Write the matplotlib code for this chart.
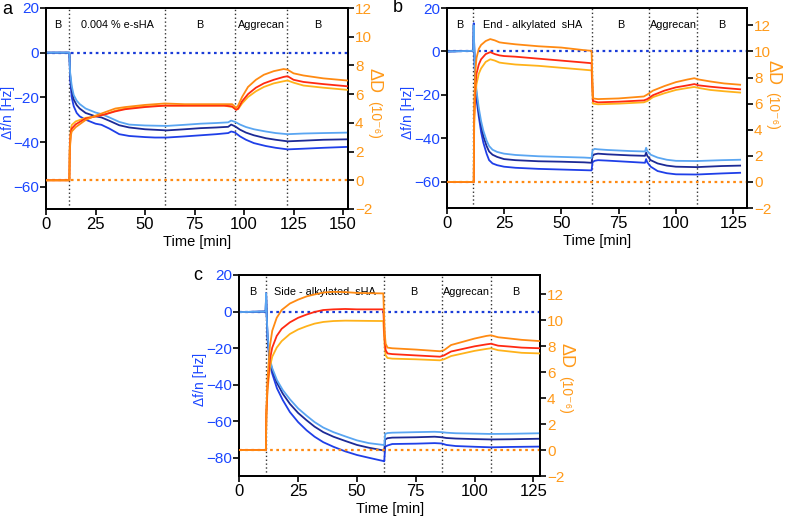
import matplotlib
matplotlib.use("Agg")
import matplotlib.pyplot as plt

plt.rcParams['font.family'] = ['Liberation Sans', 'DejaVu Sans']

# ---------------- Panel a ----------------
a_phase_times = [11.8, 60.0, 95.5, 121.7]
a_phase_labels = ["B", "0.004 % e-sHA", "B", "Aggrecan", "B"]

a_f1_t = [0, 11.8, 12.2, 13, 14, 15.5, 17, 20, 25, 28, 32, 37, 42, 50, 55, 61, 70, 78, 86, 92, 93.5, 94.5, 95.5, 98, 101, 105, 111, 116, 122, 130, 140, 152]
a_f1_v = [0, 0, -12, -20, -24, -27, -28.5, -30, -31.8, -32.3, -34, -36.5, -37.3, -37.8, -38, -38, -37.5, -37, -36.5, -36, -35.3, -35.5, -35.8, -37.5, -39, -40.5, -41.8, -42.6, -43.3, -43, -42.6, -42.2]
a_f2_t = [0, 11.8, 12.2, 13, 14, 15.5, 17, 20, 25, 28, 32, 37, 42, 50, 61, 70, 78, 86, 92, 93.5, 94.5, 95.5, 98, 101, 105, 111, 116, 122, 130, 140, 152]
a_f2_v = [0, 0, -10, -17, -21, -23.5, -25, -27, -28.5, -29, -30.5, -32.5, -33.5, -34.3, -34.8, -34.3, -33.8, -33.5, -33.2, -32.2, -32.6, -33, -34.5, -35.8, -37, -38.3, -39, -39.7, -39.4, -39, -38.8]
a_f3_t = [0, 11.8, 12.2, 13, 14, 15.5, 17, 20, 25, 28, 32, 37, 42, 50, 61, 70, 78, 86, 92, 93.5, 94.5, 95.5, 98, 101, 105, 111, 116, 122, 130, 140, 152]
a_f3_v = [0, 0, -9, -15, -19, -21.5, -23, -25, -26.8, -27.5, -29, -31, -32.2, -32.6, -32.8, -32.3, -31.8, -31.5, -31.2, -30.4, -30.7, -31, -32.2, -33.3, -34.3, -35.3, -36, -36.5, -36.2, -36, -35.8]

a_d_t = [0, 11.8, 12.0, 12.5, 13, 15, 20, 25, 30, 35, 40, 50, 60, 70, 80, 90, 94, 96, 97, 99, 102, 106, 110, 115, 120, 122, 125, 130, 140, 152]
a_d1_v = [0, 0, 2.0, 3.1, 3.4, 3.7, 4.2, 4.5, 4.75, 5.0, 5.1, 5.25, 5.35, 5.3, 5.3, 5.3, 5.3, 5.05, 5.2, 5.8, 6.5, 7.0, 7.35, 7.6, 7.75, 7.7, 7.45, 7.3, 7.1, 6.95]
a_d2_v = [0, 0, 2.2, 3.3, 3.6, 3.9, 4.3, 4.45, 4.6, 4.8, 4.95, 5.1, 5.2, 5.2, 5.2, 5.2, 5.15, 4.9, 5.0, 5.5, 6.0, 6.45, 6.75, 7.0, 7.2, 7.25, 7.0, 6.85, 6.7, 6.55]
a_d3_v = [0, 0, 2.4, 3.5, 3.85, 4.1, 4.35, 4.45, 4.6, 4.85, 5.0, 5.15, 5.2, 5.2, 5.2, 5.2, 5.1, 4.95, 4.95, 5.35, 5.8, 6.2, 6.5, 6.75, 6.9, 6.95, 6.8, 6.6, 6.45, 6.3]

# ---------------- Panel b ----------------
b_phase_times = [11.6, 63.4, 88.4, 109.3]
b_phase_labels = ["B", "End - alkylated  sHA", "B", "Aggrecan", "B"]

b_f_t = [0, 11.6, 11.8, 12.0, 12.3, 13, 14, 15, 16, 17.4, 18.5, 20, 22, 25, 30, 40, 50, 60, 63.2, 63.6, 64.5, 66, 70, 80, 86.5, 87, 87.5, 89, 92, 96, 100, 109, 120, 128]
b_f1_v = [0, 0.3, 13, 2, -10, -22, -30, -37, -42, -47, -50, -51.5, -52.3, -53, -53.5, -54, -54.3, -54.6, -54.7, -51, -50.3, -50, -50.2, -50.8, -51.2, -49.5, -51, -53, -55, -56, -56.5, -56.6, -56.1, -55.8]
b_f2_v = [0, 0.3, 12, 2, -9, -20, -28, -34, -39, -43.5, -46, -47.5, -48.5, -49.5, -50, -50.5, -50.7, -51, -51.2, -48, -47.3, -47, -47.3, -47.8, -48, -46.5, -48, -50, -51.5, -52.5, -53, -53.2, -52.7, -52.5]
b_f3_v = [0, 0.3, 12, 2, -8, -18, -26, -32, -36.5, -41, -43.5, -45.2, -46.2, -47, -47.6, -48.2, -48.5, -48.8, -49, -45.5, -44.8, -45, -45.3, -45.8, -46, -44.3, -45.8, -47.5, -48.8, -49.8, -50.3, -50.4, -50, -49.8]

b_d_t = [0, 11.8, 12.0, 12.5, 13, 14, 15, 17, 19, 21, 23, 25, 30, 40, 50, 60, 63.2, 63.8, 66, 75, 86, 87.5, 90, 95, 100, 105, 108, 110, 115, 121, 128]
b_d1_v = [0, 0, 6, 8.5, 9.5, 10.2, 10.5, 10.8, 10.95, 10.85, 10.7, 10.65, 10.55, 10.4, 10.3, 10.1, 10.05, 6.4, 6.35, 6.4, 6.55, 6.7, 7.0, 7.35, 7.65, 7.85, 7.95, 7.85, 7.7, 7.55, 7.45]
b_d2_v = [0, 0, 5, 7.5, 8.3, 9.0, 9.4, 9.8, 9.95, 9.8, 9.7, 9.65, 9.6, 9.45, 9.3, 9.15, 9.1, 6.2, 6.1, 6.15, 6.25, 6.35, 6.65, 7.0, 7.25, 7.4, 7.5, 7.4, 7.3, 7.2, 7.1]
b_d3_v = [0, 0, 4.5, 6.8, 7.5, 8.3, 8.7, 9.2, 9.4, 9.3, 9.15, 9.1, 9.0, 8.9, 8.75, 8.6, 8.55, 6.0, 5.95, 6.0, 6.1, 6.2, 6.5, 6.8, 7.05, 7.2, 7.28, 7.2, 7.05, 6.95, 6.85]

# ---------------- Panel c ----------------
c_phase_times = [11.3, 61.6, 86.3, 106.9]
c_phase_labels = ["B", "Side - alkylated  sHA", "B", "Aggrecan", "B"]

c_f_t = [0, 11.2, 11.4, 11.6, 12, 13, 14, 16, 18.5, 21.5, 25, 28.6, 32, 35.7, 40, 45, 50, 55, 61.2, 61.6, 62.0, 63, 65, 75, 83, 86, 88, 92, 100, 107, 115, 128]
c_f1_v = [-0.3, 0, 10, 0, -15, -29, -34, -42, -48.5, -55, -60.5, -65, -68.5, -71.5, -74, -76.5, -78.5, -80, -81.8, -82, -74, -73.3, -72.5, -72.3, -72, -72.2, -73, -73.6, -74, -74.3, -74.1, -73.9]
c_f2_v = [-0.3, 0, 10, 0, -14, -27, -32, -39, -45, -50.5, -55.5, -59.5, -63, -66, -68.5, -70.8, -73, -74.5, -76, -76.2, -70, -69.3, -69, -68.8, -68.5, -68.8, -69.2, -69.5, -69.8, -70, -69.9, -69.6]
c_f3_v = [-0.3, 0, 10, 0, -13, -26, -31, -37.5, -43, -48, -53, -57, -60.5, -63.5, -66, -68.3, -70.5, -72, -73, -73.2, -67, -66.5, -66.3, -66, -65.8, -66, -66.3, -66.6, -66.8, -67, -66.9, -66.6]

c_d_t = [0, 11.3, 11.5, 12, 13, 14, 15.9, 18, 21.5, 25, 28.6, 32, 35.7, 40, 45, 50, 55, 61.2, 61.8, 62.2, 63, 65, 75, 85.3, 87, 90, 95, 100, 105, 107, 110, 115, 120, 128]
c_d1_v = [0, 0, 3, 5.5, 8.0, 9.2, 10.2, 10.8, 11.3, 11.6, 11.85, 12.0, 12.15, 12.2, 12.18, 12.12, 12.1, 12.08, 9, 8.2, 7.9, 7.85, 7.75, 7.62, 7.7, 8.1, 8.35, 8.6, 8.8, 8.85, 8.7, 8.6, 8.5, 8.4]
c_d2_v = [0, 0, 2.8, 5.0, 7.0, 7.9, 8.8, 9.35, 9.85, 10.2, 10.45, 10.65, 10.8, 10.85, 10.88, 10.85, 10.85, 10.85, 8.5, 7.7, 7.45, 7.4, 7.3, 7.2, 7.3, 7.6, 7.8, 8.0, 8.15, 8.2, 8.05, 7.98, 7.9, 7.85]
c_d3_v = [0, 0, 2.6, 4.6, 6.4, 7.2, 7.9, 8.4, 8.95, 9.3, 9.55, 9.75, 9.88, 9.95, 9.98, 9.97, 9.96, 9.95, 8.0, 7.3, 7.1, 7.05, 7.0, 6.92, 7.0, 7.25, 7.45, 7.65, 7.8, 7.85, 7.7, 7.6, 7.5, 7.45]

# ---------------- styling ----------------
BLUE1 = "#1f3fe8"
BLUE2 = "#1c2a96"
BLUE3 = "#5aa6f2"
ORANGE = "#ff8a12"
RED = "#ff2a12"
YELLOW = "#ffb21a"
TICKBLUE = "#1a46ff"
TICKORANGE = "#ff9a1a"

fig = plt.figure(figsize=(7.87, 5.17), dpi=100)

W, H = 787.0, 517.0


def make_axes(l, r, t, b):
    return fig.add_axes([l / W, 1 - b / H, (r - l) / W, (b - t) / H])


def draw_panel(ax, xlim, xticks, ylim_f, yticks_f, ylim_d, yticks_d,
               phase_times, phase_labels,
               f_series, d_series, ylab_x, dlab_y, dunit_y):
    ax2 = ax.twinx()
    ax.axhline(0, color="#1a3cd8", ls=(0, (1.2, 1.6)), lw=1.6, zorder=1)
    ax2.axhline(0, color=ORANGE, ls=(0, (1.2, 1.6)), lw=1.6, zorder=1)
    for t in phase_times:
        ax.axvline(t, color="#333333", ls=(0, (1, 1.8)), lw=1.0, zorder=0)
    for (tt, vv, col) in f_series:
        ax.plot(tt, vv, color=col, lw=1.3, zorder=3)
    for (tt, vv, col) in d_series:
        ax2.plot(tt, vv, color=col, lw=1.3, zorder=3)

    ax.set_xlim(*xlim)
    ax.set_ylim(*ylim_f)
    ax2.set_ylim(*ylim_d)
    ax.set_xticks(xticks)
    ax.set_yticks(yticks_f)
    ax2.set_yticks(yticks_d)
    ax.tick_params(axis="x", direction="out", length=4, width=1.2, labelsize=12, pad=2)
    ax.tick_params(axis="y", direction="out", length=4, width=1.2, labelsize=11,
                   labelcolor=TICKBLUE, pad=1)
    ax2.tick_params(axis="y", direction="out", length=4, width=1.2, labelsize=11,
                    labelcolor=TICKORANGE, pad=1)
    for a_ in (ax, ax2):
        for s in a_.spines.values():
            s.set_linewidth(1.3)
            s.set_color("black")

    edges = [xlim[0]] + list(phase_times) + [xlim[1]]
    for i, lab in enumerate(phase_labels):
        xc = 0.5 * (edges[i] + edges[i + 1])
        ax.text(xc, 0.915, lab, transform=ax.get_xaxis_transform(),
                ha="center", va="center", fontsize=7.8, color="black")

    ax.text(0.5, -0.165, "Time [min]", transform=ax.transAxes,
            ha="center", va="center", fontsize=10.5)
    ax.text(ylab_x, 0.48, "Δf/n [Hz]", transform=ax.transAxes, rotation=90,
            ha="center", va="center", fontsize=10, color=TICKBLUE)
    ax.text(1.085, dlab_y, "ΔD", transform=ax.transAxes, rotation=-90,
            ha="center", va="center", fontsize=13, color=TICKORANGE)
    ax.text(1.085, dunit_y, "(10⁻⁶)", transform=ax.transAxes, rotation=-90,
            ha="center", va="center", fontsize=10, color=TICKORANGE)
    return ax2


axa = make_axes(46, 348, 8, 209)
draw_panel(axa, (0, 152.5), [0, 25, 50, 75, 100, 125, 150], (-70, 20), [-60, -40, -20, 0, 20],
           (-2, 12), [-2, 0, 2, 4, 6, 8, 10, 12], a_phase_times, a_phase_labels,
           [(a_f1_t, a_f1_v, BLUE1), (a_f2_t, a_f2_v, BLUE2), (a_f3_t, a_f3_v, BLUE3)],
           [(a_d_t, a_d3_v, YELLOW), (a_d_t, a_d2_v, RED), (a_d_t, a_d1_v, ORANGE)],
           -0.127, 0.64, 0.445)
fig.text(2 / W, 1 - 10 / H, "a", fontsize=13, va="center", ha="left")

axb = make_axes(446.7, 747, 8, 208)
draw_panel(axb, (0, 131), [0, 25, 50, 75, 100, 125], (-72, 20), [-60, -40, -20, 0, 20],
           (-2, 13.333), [-2, 0, 2, 4, 6, 8, 10, 12], b_phase_times, b_phase_labels,
           [(b_f_t, b_f1_v, BLUE1), (b_f_t, b_f2_v, BLUE2), (b_f_t, b_f3_v, BLUE3)],
           [(b_d_t, b_d3_v, YELLOW), (b_d_t, b_d2_v, RED), (b_d_t, b_d1_v, ORANGE)],
           -0.128, 0.68, 0.485)
fig.text(393 / W, 1 - 8 / H, "b", fontsize=13, va="center", ha="left")

axc = make_axes(239.3, 540, 275, 476)
draw_panel(axc, (0, 127.8), [0, 25, 50, 75, 100, 125], (-90, 20), [-80, -60, -40, -20, 0, 20],
           (-2, 13.5), [-2, 0, 2, 4, 6, 8, 10, 12], c_phase_times, c_phase_labels,
           [(c_f_t, c_f1_v, BLUE1), (c_f_t, c_f2_v, BLUE2), (c_f_t, c_f3_v, BLUE3)],
           [(c_d_t, c_d3_v, YELLOW), (c_d_t, c_d2_v, RED), (c_d_t, c_d1_v, ORANGE)],
           -0.13, 0.6, 0.405)
fig.text(193 / W, 1 - 276 / H, "c", fontsize=13, va="center", ha="left")

fig.savefig("out.png", dpi=100)
